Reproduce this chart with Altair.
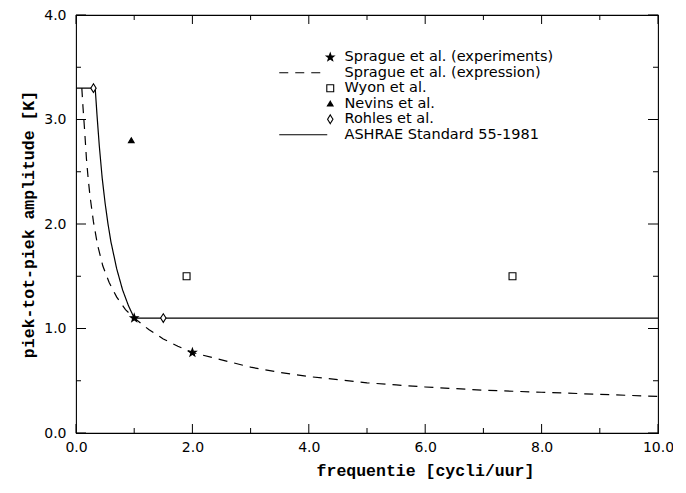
import math
import altair as alt
import pandas as pd

# ---------------- data ----------------
series_names = [
    "Sprague et al. (experiments)",
    "Sprague et al. (expression)",
    "Wyon et al.",
    "Nevins et al.",
    "Rohles et al.",
    "ASHRAE Standard 55-1981",
]

sprague_exp_f = [1.0, 2.0]
sprague_exp_a = [1.1, 0.77]
wyon_f = [1.9, 7.5]
wyon_a = [1.5, 1.5]
nevins_f = [0.95]
nevins_a = [2.8]
rohles_f = [0.3, 1.5]
rohles_a = [3.3, 1.1]

expr_f = [0.10, 0.12, 0.15, 0.18, 0.21, 0.24, 0.30, 0.37, 0.46, 0.57, 0.70, 0.85,
          1.00, 1.25, 1.50, 1.75, 2.00, 2.50, 3.00, 3.50, 4.00, 4.50, 5.00, 5.50,
          6.00, 7.00, 8.00, 9.00, 10.0]
expr_a = [3.30, 3.12, 2.88, 2.62, 2.43, 2.27, 2.02, 1.80, 1.60, 1.44, 1.30, 1.18,
          1.10, 0.99, 0.90, 0.83, 0.77, 0.70, 0.63, 0.58, 0.54, 0.51, 0.48, 0.46,
          0.44, 0.41, 0.39, 0.37, 0.35]

ashrae_f = [0.0, 0.33, 0.36, 0.40, 0.45, 0.50, 0.55, 0.60, 0.70, 0.80, 0.90, 1.00, 10.0]
ashrae_a = [3.3, 3.30, 3.05, 2.75, 2.44, 2.20, 2.00, 1.83, 1.57, 1.37, 1.22, 1.10, 1.10]

x_major = [0, 2, 4, 6, 8, 10]
x_minor = [1, 3, 5, 7, 9]
y_major = [0, 1, 2, 3, 4]
y_minor = [0.5, 1.5, 2.5, 3.5]

# ---------------- tables ----------------
pts = []
for name, fs, as_ in [(series_names[0], sprague_exp_f, sprague_exp_a),
                      (series_names[2], wyon_f, wyon_a),
                      (series_names[3], nevins_f, nevins_a),
                      (series_names[4], rohles_f, rohles_a)]:
    for f, a in zip(fs, as_):
        pts.append({"series": name, "f": f, "a": a})
points_df = pd.DataFrame(pts)

lns = []
for name, fs, as_ in [(series_names[1], expr_f, expr_a),
                      (series_names[5], ashrae_f, ashrae_a)]:
    for i, (f, a) in enumerate(zip(fs, as_)):
        lns.append({"series": name, "f": f, "a": a, "i": i})
lines_df = pd.DataFrame(lns)

xmaj_df = pd.DataFrame({"f": x_major})
xmin_df = pd.DataFrame({"f": x_minor})
ymaj_df = pd.DataFrame({"a": y_major})
ymin_df = pd.DataFrame({"a": y_minor})

# ---------------- styles ----------------
W, H = 582, 418


def star_path(R=1.35, r=0.55):
    p = []
    for k in range(10):
        ang = -math.pi / 2 + k * math.pi / 5
        rad = R if k % 2 == 0 else r
        p.append(f"{rad * math.cos(ang):.3f},{rad * math.sin(ang):.3f}")
    return "M" + " L".join(p) + " Z"


shape_range = [
    star_path(),
    "M-17,0 L-2.7,0",
    "M-1.15,-1.15 L1.15,-1.15 L1.15,1.15 L-1.15,1.15 Z",
    "M0,-0.85 L0.95,0.75 L-0.95,0.75 Z",
    "M0,-1.45 L0.9,0 L0,1.45 L-0.9,0 Z",
    "M-17,0 L-1,0",
]
fill_range = ["black", "transparent", "white", "black", "white", "transparent"]
dash_range = [[1, 0], [9, 7], [1, 0], [1, 0], [1, 0], [1, 0]]
stroke_range = ["black"] * 6

legend = alt.Legend(
    orient="none", legendX=247, legendY=35, title=None,
    labelFont="DejaVu Sans", labelFontSize=14.5, labelColor="black", labelLimit=500,
    labelOffset=7, rowPadding=0.5, padding=0, symbolSize=36,
    symbolStrokeWidth=1.1,
)

FONT = "DejaVu Sans"
TFONT = "Liberation Mono"

x_axis = alt.Axis(values=x_major, format=".1f", tickSize=0, labelPadding=7,
                  labelFlush=False, domain=False, grid=False,
                  labelFont=FONT, labelFontSize=14, labelColor="black",
                  title="frequentie [cycli/uur]", titleFont=TFONT, titleFontSize=16.5,
                  titleFontWeight="bold", titleColor="black",
                  titleX=349, titleY=42, titleBaseline="alphabetic", titleAlign="center")
y_axis = alt.Axis(values=y_major, format=".1f", tickSize=0, labelPadding=10,
                  labelFlush=False, domain=False, grid=False,
                  labelFont=FONT, labelFontSize=14, labelColor="black",
                  title="piek-tot-piek amplitude [K]", titleFont=TFONT, titleFontSize=16.5,
                  titleFontWeight="bold", titleColor="black",
                  titleX=-43, titleY=H / 2, titleBaseline="alphabetic", titleAlign="center")

x_scale = alt.Scale(domain=[0, 10], nice=False, zero=False)
y_scale = alt.Scale(domain=[0, 4], nice=False, zero=False)


def X():
    return alt.X("f:Q", scale=x_scale, axis=x_axis)


def Y():
    return alt.Y("a:Q", scale=y_scale, axis=y_axis)


stroke_enc = alt.Stroke("series:N", scale=alt.Scale(domain=series_names, range=stroke_range),
                        legend=legend)

lines = alt.Chart(lines_df).mark_line(strokeWidth=1.2).encode(
    x=X(), y=Y(),
    stroke=stroke_enc,
    strokeDash=alt.StrokeDash("series:N", scale=alt.Scale(domain=series_names, range=dash_range),
                              legend=legend),
    detail="series:N",
    order="i:Q",
)

points = alt.Chart(points_df).mark_point(strokeWidth=1.1, size=36, opacity=1).encode(
    x=X(), y=Y(),
    stroke=stroke_enc,
    shape=alt.Shape("series:N", scale=alt.Scale(domain=series_names, range=shape_range),
                    legend=legend),
    fill=alt.Fill("series:N", scale=alt.Scale(domain=series_names, range=fill_range),
                  legend=legend),
)


def xticks(df, y0, y1):
    return alt.Chart(df).mark_rule(color="black", strokeWidth=1).encode(
        x=X(), y=alt.value(y0), y2=alt.value(y1))


def yticks(df, x0, x1):
    return alt.Chart(df).mark_rule(color="black", strokeWidth=1).encode(
        y=Y(), x=alt.value(x0), x2=alt.value(x1))


ticks = [
    xticks(xmaj_df, H, H - 9), xticks(xmin_df, H, H - 5),
    xticks(xmaj_df, 0, 9), xticks(xmin_df, 0, 5),
    yticks(ymaj_df, 0, 10), yticks(ymin_df, 0, 5),
    yticks(ymaj_df, W, W - 10), yticks(ymin_df, W, W - 5),
]

chart = alt.layer(lines, points, *ticks).properties(
    width=W, height=H,
    autosize=alt.AutoSizeParams(type="none"),
    padding={"left": 68, "top": 7, "right": 15, "bottom": 46},
    background="white",
).configure_view(stroke="black", strokeWidth=1.1)

chart.save("out.html", embed_options={"renderer": "svg", "actions": False})
